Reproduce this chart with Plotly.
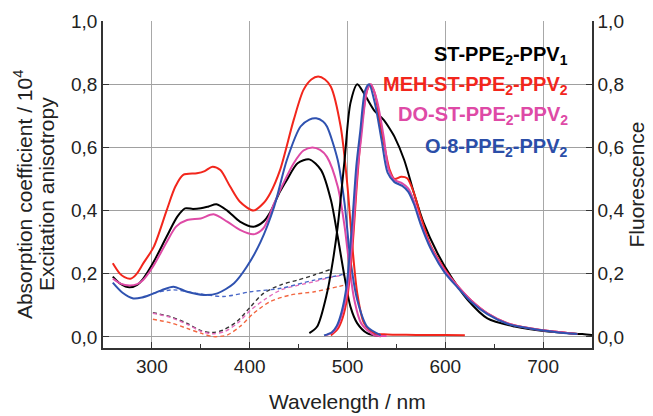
import plotly.graph_objects as go

# ---------------- data ----------------
# Absorption (left axis, solid)
abs_st_wl = [260, 268, 277, 285, 291, 301, 315, 326, 334, 342, 350, 358, 366, 377, 390, 404, 414, 421, 431, 438, 449, 461, 473, 483, 490, 497, 503, 510, 520, 534]
abs_st = [0.191, 0.168, 0.157, 0.165, 0.184, 0.233, 0.317, 0.381, 0.407, 0.405, 0.407, 0.413, 0.420, 0.400, 0.365, 0.349, 0.365, 0.395, 0.46, 0.497, 0.550, 0.562, 0.528, 0.434, 0.317, 0.190, 0.096, 0.043, 0.012, 0.002]

abs_meh_wl = [260, 267, 272, 278, 284, 291, 302, 315, 324, 332, 346, 354, 362, 370, 380, 390, 404, 414, 421, 431, 445, 455, 463, 470, 477, 483, 493, 500, 505, 510, 517, 527, 541, 560, 580, 600, 620]
abs_meh = [0.233, 0.201, 0.189, 0.184, 0.198, 0.232, 0.286, 0.400, 0.476, 0.513, 0.518, 0.525, 0.539, 0.528, 0.476, 0.428, 0.400, 0.423, 0.455, 0.528, 0.687, 0.782, 0.815, 0.824, 0.815, 0.792, 0.666, 0.476, 0.286, 0.138, 0.043, 0.012, 0.008, 0.007, 0.006, 0.006, 0.005]

abs_do_wl = [260, 268, 277, 285, 291, 301, 315, 325, 336, 350, 363, 377, 390, 404, 414, 425, 435, 445, 455, 464, 472, 479, 490, 497, 502, 507, 514, 527, 540]
abs_do = [0.185, 0.169, 0.163, 0.167, 0.180, 0.222, 0.300, 0.350, 0.370, 0.375, 0.388, 0.365, 0.339, 0.325, 0.344, 0.423, 0.49, 0.550, 0.590, 0.600, 0.592, 0.570, 0.476, 0.350, 0.222, 0.117, 0.043, 0.006, 0.003]

abs_o8_wl = [260, 270, 281, 290, 298, 310, 322, 336, 353, 367, 384, 397, 411, 425, 438, 452, 461, 468, 475, 479, 490, 497, 503, 510, 520, 534]
abs_o8 = [0.172, 0.140, 0.122, 0.125, 0.133, 0.148, 0.159, 0.143, 0.133, 0.138, 0.170, 0.222, 0.300, 0.412, 0.560, 0.666, 0.688, 0.692, 0.682, 0.666, 0.560, 0.423, 0.244, 0.117, 0.033, 0.006]

# Fluorescence (right axis, solid)
fl_st_wl = [461, 469, 479, 485, 490, 497, 503, 510, 517, 527, 537, 544, 548, 558, 568, 578, 592, 606, 623, 643, 671, 705, 740, 750]
fl_st = [0.012, 0.033, 0.138, 0.24, 0.35, 0.56, 0.74, 0.80, 0.77, 0.718, 0.687, 0.655, 0.634, 0.56, 0.455, 0.36, 0.265, 0.19, 0.117, 0.059, 0.033, 0.017, 0.009, 0.006]

fl_meh_wl = [483, 490, 495, 500, 505, 510, 515, 520, 523, 528, 533, 538, 543, 548, 555, 561, 568, 575, 585, 600, 613, 626, 643, 664, 688, 712, 735]
fl_meh = [0.005, 0.025, 0.06, 0.13, 0.28, 0.50, 0.68, 0.78, 0.80, 0.77, 0.68, 0.60, 0.53, 0.50, 0.507, 0.502, 0.455, 0.38, 0.29, 0.212, 0.16, 0.117, 0.075, 0.043, 0.027, 0.017, 0.009]

fl_do_wl = [477, 485, 490, 495, 500, 506, 510, 514, 520, 524, 530, 537, 542, 548, 556, 562, 568, 575, 585, 599, 613, 626, 643, 664, 688, 712, 735]
fl_do = [0.005, 0.015, 0.035, 0.08, 0.15, 0.35, 0.52, 0.63, 0.78, 0.80, 0.75, 0.634, 0.53, 0.497, 0.486, 0.47, 0.43, 0.36, 0.286, 0.212, 0.16, 0.117, 0.075, 0.043, 0.027, 0.017, 0.009]

fl_o8_wl = [476, 484, 489, 494, 499, 505, 509, 513, 518, 522, 528, 535, 541, 548, 556, 562, 568, 575, 585, 599, 613, 626, 643, 664, 688, 712, 735]
fl_o8 = [0.005, 0.015, 0.035, 0.08, 0.16, 0.37, 0.54, 0.65, 0.78, 0.80, 0.74, 0.62, 0.52, 0.49, 0.478, 0.46, 0.42, 0.355, 0.28, 0.205, 0.155, 0.112, 0.072, 0.041, 0.026, 0.016, 0.009]

# Excitation anisotropy (left axis, dashed)
an_st_wl = [301, 319, 336, 350, 362, 373, 387, 401, 414, 432, 449, 466, 483]
an_st = [0.077, 0.064, 0.043, 0.020, 0.014, 0.022, 0.049, 0.096, 0.138, 0.165, 0.180, 0.196, 0.214]

an_meh_wl = [301, 319, 336, 350, 363, 377, 390, 404, 421, 442, 466, 490, 498]
an_meh = [0.056, 0.045, 0.027, 0.012, 0.001, 0.006, 0.033, 0.075, 0.112, 0.133, 0.143, 0.159, 0.165]

an_do_wl = [301, 319, 336, 350, 362, 375, 388, 401, 416, 432, 449, 466, 482, 497]
an_do = [0.075, 0.062, 0.040, 0.018, 0.010, 0.018, 0.045, 0.085, 0.120, 0.149, 0.163, 0.175, 0.188, 0.196]

an_o8_wl = [301, 322, 346, 373, 401, 432, 466, 493, 497]
an_o8 = [0.138, 0.149, 0.138, 0.128, 0.143, 0.154, 0.180, 0.196, 0.200]

names = ["ST-PPE<sub>2</sub>-PPV<sub>1</sub>",
         "MEH-ST-PPE<sub>2</sub>-PPV<sub>2</sub>",
         "DO-ST-PPE<sub>2</sub>-PPV<sub>2</sub>",
         "O-8-PPE<sub>2</sub>-PPV<sub>2</sub>"]
colors = ["#000000", "#f2261c", "#de4aa6", "#2f52b0"]
dash_colors = ["#333333", "#f26640", "#e46cbc", "#4a68c8"]
label_colors = ["#000000", "#f2261c", "#de4aa6", "#2b4ea8"]

x_ticks = [300, 400, 500, 600, 700]
y_ticks = [0.0, 0.2, 0.4, 0.6, 0.8, 1.0]

# ---------------- figure ----------------
fig = go.Figure()

absorption = [(abs_st_wl, abs_st), (abs_meh_wl, abs_meh), (abs_do_wl, abs_do), (abs_o8_wl, abs_o8)]
fluor = [(fl_st_wl, fl_st), (fl_meh_wl, fl_meh), (fl_do_wl, fl_do), (fl_o8_wl, fl_o8)]
aniso = [(an_st_wl, an_st), (an_meh_wl, an_meh), (an_do_wl, an_do), (an_o8_wl, an_o8)]

for i, (wl, v) in enumerate(aniso):
    fig.add_trace(go.Scatter(x=wl, y=v, mode="lines",
                             line=dict(color=dash_colors[i], width=1.4, dash="4px,3px", shape="spline", smoothing=0.8),
                             showlegend=False))
for i, (wl, v) in enumerate(absorption):
    fig.add_trace(go.Scatter(x=wl, y=v, mode="lines",
                             line=dict(color=colors[i], width=2, shape="spline", smoothing=0.8),
                             showlegend=False))
for i, (wl, v) in enumerate(fluor):
    fig.add_trace(go.Scatter(x=wl, y=v, mode="lines", yaxis="y2",
                             line=dict(color=colors[i], width=2, shape="spline", smoothing=0.8),
                             showlegend=False))

font_family = "Liberation Sans, Arial, sans-serif"
yr = [-0.035, 1.0]

fig.update_layout(
    width=653, height=416,
    margin=dict(l=103, r=61, t=21, b=68),
    paper_bgcolor="white", plot_bgcolor="white",
    separators=",.",
    font=dict(family=font_family, size=19, color="#222222"),
    xaxis=dict(range=[250, 750], tickvals=x_ticks, ticks="inside", ticklen=6,
               tickcolor="#333", showline=True, linecolor="#333", linewidth=1.5,
               showgrid=True, gridcolor="#a8a8a8", gridwidth=1, zeroline=False,
               minor=dict(tickvals=[350, 450, 550, 650], ticks="inside", ticklen=4, tickcolor="#333"),
               tickfont=dict(size=19)),
    yaxis=dict(range=yr, tickvals=y_ticks, tickformat=".1f", ticks="inside", ticklen=6,
               tickcolor="#333", showline=True, linecolor="#333", linewidth=1.5,
               showgrid=True, gridcolor="#a0a0a0", gridwidth=1, zeroline=False,
               tickfont=dict(size=19)),
    yaxis2=dict(range=yr, tickvals=y_ticks, tickformat=".1f", ticks="inside", ticklen=6,
                tickcolor="#333", showline=True, linecolor="#333", linewidth=1.5,
                overlaying="y", side="right", showgrid=False, zeroline=False,
                tickfont=dict(size=19)),
)

ann = []
ann.append(dict(text="Absorption coefficient / 10<sup>4</sup>", x=-0.162, y=0.47, xref="paper", yref="paper",
                textangle=-90, showarrow=False, font=dict(size=21, color="#222"), xanchor="center", yanchor="middle"))
ann.append(dict(text="Excitation anisotropy", x=-0.115, y=0.47, xref="paper", yref="paper",
                textangle=-90, showarrow=False, font=dict(size=21, color="#222"), xanchor="center", yanchor="middle"))
ann.append(dict(text="Fluorescence", x=1.09, y=0.5, xref="paper", yref="paper",
                textangle=-90, showarrow=False, font=dict(size=21, color="#222"), xanchor="center", yanchor="middle"))
ann.append(dict(text="Wavelength / nm", x=0.5, y=-0.165, xref="paper", yref="paper",
                showarrow=False, font=dict(size=21, color="#222"), xanchor="center", yanchor="middle"))
leg_y = [0.895, 0.803, 0.712, 0.614]
for i in range(4):
    ann.append(dict(text="<b>" + names[i] + "</b>", x=0.955, y=leg_y[i], xref="paper", yref="paper",
                    showarrow=False, font=dict(size=20, color=label_colors[i]), xanchor="right", yanchor="middle"))
fig.update_layout(annotations=ann)

fig.write_html("out.html")
